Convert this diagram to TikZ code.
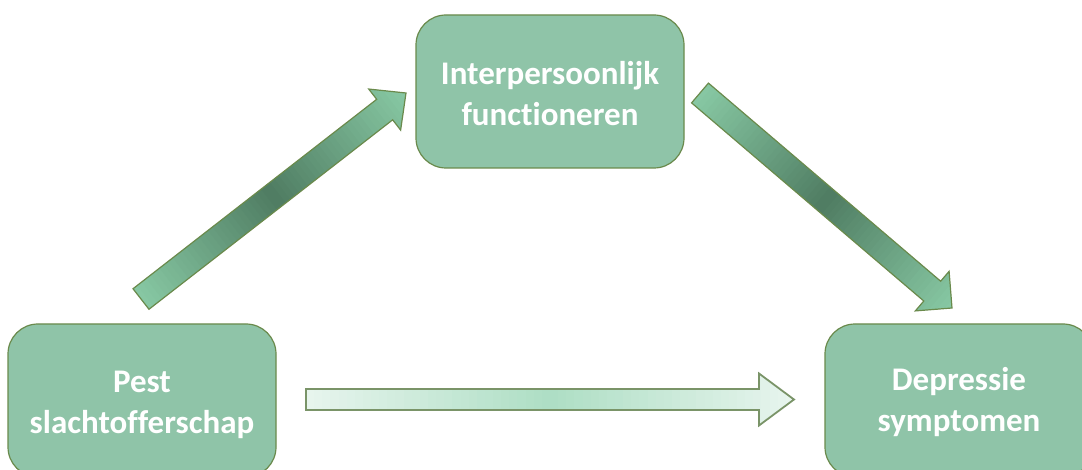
\documentclass[tikz,border=0pt]{standalone}
\usepackage{fontspec}
\setmainfont{Carlito}[Ligatures=NoCommon]
\usetikzlibrary{calc}
\definecolor{boxfill}{HTML}{8FC4A8}
\definecolor{boxline}{HTML}{6A8A4C}
\definecolor{arrlt}{HTML}{88C9A4}
\definecolor{arrdk}{HTML}{4F7C62}
\definecolor{harlt}{HTML}{E8F5EE}
\definecolor{hardk}{HTML}{ADDEC4}
\definecolor{harline}{HTML}{7A9468}
\tikzset{
  box/.style={draw=boxline, line width=1.2pt, fill=boxfill, rounded corners=30pt,
    minimum width=268pt, minimum height=153pt, inner sep=0pt},
  boxtext/.style={text=white, font=\bfseries\fontsize{33}{41}\selectfont,
    align=center, inner sep=0pt},
  arrline/.style={draw=boxline, line width=1.2pt, line join=miter},
  harrline/.style={draw=harline, line width=1.8pt, line join=miter},
}
% #1 tail, #2 tip, #3 shaft half width, #4 head half width, #5 head length,
% #6 light colour, #7 dark colour, #8 outline style
\newcommand\blkarrow[8]{%
  \coordinate (hb) at ($(#2)!#5!(#1)$);
  \coordinate (p1) at ($(#1)!40pt!90:(#2)$);
  \coordinate (p2) at ($(#1)!40pt!-90:(#2)$);
  \coordinate (q1) at ($(#2)!40pt!-90:(#1)$);
  \coordinate (q2) at ($(#2)!40pt!90:(#1)$);
  \path[#8, path picture={
     \foreach \i in {0,...,59}{
       \pgfmathtruncatemacro\mx{round(100*abs(2*(\i+0.5)/60-1))}
       \pgfmathsetmacro\ta{\i/60}
       \pgfmathsetmacro\tb{(\i+1.3)/60}
       \fill[#6!\mx!#7] ($(p1)!\ta!(q1)$) -- ($(p1)!\tb!(q1)$)
          -- ($(p2)!\tb!(q2)$) -- ($(p2)!\ta!(q2)$) -- cycle;
     }}]
    ($(#1)!#3!90:(#2)$) -- ($(hb)!#3!90:(#2)$) -- ($(hb)!#4!90:(#2)$) -- (#2)
    -- ($(hb)!#4!-90:(#2)$) -- ($(hb)!#3!-90:(#2)$) -- ($(#1)!#3!-90:(#2)$) -- cycle;
}
\begin{document}
\begin{tikzpicture}[x=1pt, y=-1pt]
  \useasboundingbox (0,0) rectangle (1082,470);
  \node[box, label={[boxtext, yshift=-4pt]center:Pest\\slachtofferschap}] (pest) at (142,400.5) {};
  \node[box, label={[boxtext, yshift=-2pt]center:Interpersoonlijk\\functioneren}] (inter) at (550,91.5) {};
  \node[box, label={[boxtext, yshift=-2pt]center:Depressie\\symptomen}] (dep) at (959,400.5) {};
  % connector end points
  \coordinate (a1s) at (141,299);
  \coordinate (a1e) at (406,93);
  \coordinate (a2s) at (700,93);
  \coordinate (a2e) at (952,308);
  \coordinate (a3s) at (306,399.5);
  \coordinate (a3e) at (794,399.5);
  \blkarrow{a1s}{a1e}{13pt}{26pt}{27pt}{arrlt}{arrdk}{arrline}
  \blkarrow{a2s}{a2e}{13pt}{26pt}{26pt}{arrlt}{arrdk}{arrline}
  \blkarrow{a3s}{a3e}{10.5pt}{26pt}{35pt}{harlt}{hardk}{harrline}
\end{tikzpicture}
\end{document}
